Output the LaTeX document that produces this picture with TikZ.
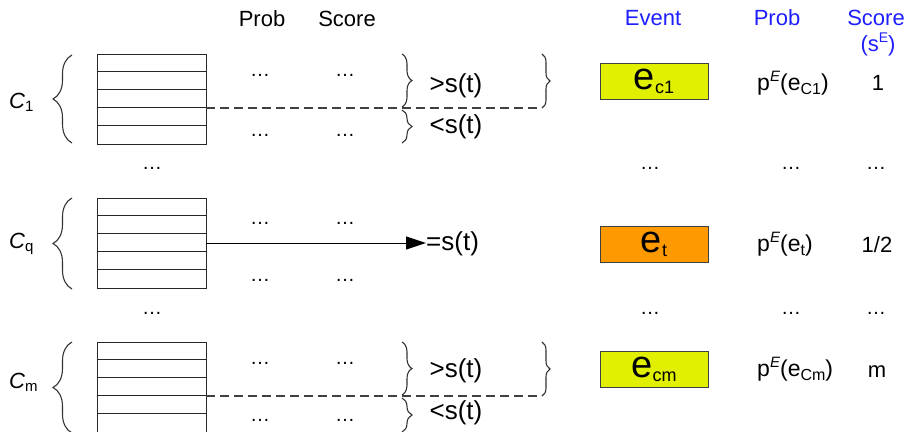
\documentclass[tikz,border=0pt]{standalone}
\usepackage{fontspec}
\setmainfont{Liberation Sans}
\usetikzlibrary{decorations.pathreplacing,arrows.meta}
\newcommand{\fsz}[1]{\fontsize{#1}{#1}\selectfont}
\newcommand{\lowr}[3]{\raisebox{-#1pt}{\fsz{#2}#3}}
\newcommand{\upr}[3]{\raisebox{#1pt}{\fsz{#2}#3}}
\definecolor{hdrblue}{RGB}{30,30,255}
\definecolor{evyellow}{RGB}{224,240,0}
\definecolor{evorange}{RGB}{255,153,0}
\begin{document}
\begin{tikzpicture}[x=1pt,y=-1pt,
  tbl/.style={draw=black!85, line width=0.9pt, minimum width=109pt, minimum height=90pt, inner sep=0pt},
  rowline/.style={draw=black!85, line width=0.9pt},
  evbox/.style={draw=black!75, line width=0.9pt, minimum width=108pt, minimum height=36pt, inner sep=0pt},
  txt/.style={inner sep=0pt, font=\fsz{22}, anchor=base},
  ptxt/.style={inner sep=0pt, font=\fsz{23}, anchor=base west},
  big/.style={inner sep=0pt, font=\fsz{26}, anchor=base},
  hdr/.style={inner sep=0pt, font=\fsz{22}, anchor=base},
  dotsn/.style={inner sep=0pt, font=\fsz{20}, anchor=base},
  brc/.style={decorate, decoration={brace, amplitude=#1}, draw=black!80, line width=1.1pt},
  cut/.style={draw=black!75, line width=1.2pt, dash pattern=on 9pt off 5pt},
  arr/.style={draw=black, line width=1pt, -{Triangle[length=20pt,width=13pt]}}
]
\useasboundingbox (0,0) rectangle (910,431);

% headers
\node[hdr] (hprob) at (262,26) {Prob};
\node[hdr] (hscore) at (347,26) {Score};
\node[hdr, text=hdrblue] (hevent) at (653,25) {Event};
\node[hdr, text=hdrblue] (hprobE) at (777,25) {Prob};
\node[hdr, text=hdrblue] (hscoreE) at (876,25) {Score};
\node[hdr, text=hdrblue] (hsE) at (878,51) {(s\upr{9}{14}{E})};

% tables
\node[tbl] (t1) at (151.5,99) {};
\node[tbl] (tq) at (151.5,243) {};
\node[tbl] (tm) at (151.5,387) {};
\foreach \t in {t1,tq,tm}{
  \foreach \k in {1,...,4}{
    \draw[rowline] (\t.north west) ++(0,18*\k) -- ++(109,0);
  }
}

% class labels
\node[txt, anchor=base west] (c1) at (9,108) {\textit{C}\lowr{3}{15}{1}};
\node[txt, anchor=base west] (cq) at (9,248) {\textit{C}\lowr{3}{15}{q}};
\node[txt, anchor=base west] (cm) at (9,388) {\textit{C}\lowr{3}{15}{m}};

% left braces
\coordinate (lb1a) at (72,143); \coordinate (lb1b) at (72,55);
\coordinate (lbqa) at (72,289); \coordinate (lbqb) at (72,198);
\coordinate (lbma) at (72,433); \coordinate (lbmb) at (72,342);
\draw[brc=19pt] (lb1a) -- (lb1b);
\draw[brc=19pt] (lbqa) -- (lbqb);
\draw[brc=19pt] (lbma) -- (lbmb);

% dots inside tables
\foreach \y/\n in {76/a,136/b,224/c,281/d,364/e,421/f}{
  \node[dotsn] (dp\n) at (260,\y) {…};
  \node[dotsn] (ds\n) at (345,\y) {…};
}
\node[dotsn] (rowdotA) at (152,169) {…};
\node[dotsn] (rowdotB) at (152,314) {…};

% row C1: threshold split
\coordinate (d1s) at (206,108);
\coordinate (d1e) at (542,108);
\draw[cut] (d1s) -- (d1e);
\coordinate (sb1a) at (402,54); \coordinate (sb1b) at (402,107);
\coordinate (sb1c) at (402,110); \coordinate (sb1d) at (402,143);
\draw[brc=10pt] (sb1a) -- (sb1b);
\draw[brc=10pt] (sb1c) -- (sb1d);
\coordinate (bb1a) at (542,54); \coordinate (bb1b) at (542,108);
\draw[brc=8pt] (bb1a) -- (bb1b);
\node[big] (gt1) at (456,92) {>s(t)};
\node[big] (lt1) at (456,133) {<s(t)};

% row Cq: arrow to =s(t)
\node[big, anchor=base west] (eqt) at (426,250) {=s(t)};
\draw[arr] (tq.east) -- (tq.east -| eqt.west);

% row Cm
\coordinate (dms) at (206,396);
\coordinate (dme) at (542,396);
\draw[cut] (dms) -- (dme);
\coordinate (sbma) at (402,342); \coordinate (sbmb) at (402,395);
\coordinate (sbmc) at (402,398); \coordinate (sbmd) at (402,432);
\draw[brc=10pt] (sbma) -- (sbmb);
\draw[brc=10pt] (sbmc) -- (sbmd);
\coordinate (bbma) at (542,342); \coordinate (bbmb) at (542,396);
\draw[brc=8pt] (bbma) -- (bbmb);
\node[big] (gtm) at (456,377) {>s(t)};
\node[big] (ltm) at (456,419) {<s(t)};

% event boxes
\node[evbox, fill=evyellow] (ec1) at (654,81) {\fsz{38}e\lowr{4}{18}{c1}};
\node[evbox, fill=evorange] (et) at (654,244) {\fsz{38}e\lowr{4}{18}{t}};
\node[evbox, fill=evyellow] (ecm) at (654,369) {\fsz{38}e\lowr{4}{18}{cm}};

% probabilities
\node[ptxt] (pc1) at (757,90) {p\upr{9}{15}{\textit{E}}(e\lowr{4}{16}{C1})};
\node[ptxt] (pt) at (757,251) {p\upr{9}{15}{\textit{E}}(e\lowr{4}{16}{t})};
\node[ptxt] (pcm) at (757,376) {p\upr{9}{15}{\textit{E}}(e\lowr{4}{16}{Cm})};

% scores
\node[txt] (s1) at (878,90) {1};
\node[txt] (st) at (877,252) {1/2};
\node[txt] (sm) at (877,377) {m};

% separator dots on right
\foreach \y/\n in {169/a,314/b}{
  \node[dotsn] (ed\n) at (650,\y) {…};
  \node[dotsn] (pd\n) at (791,\y) {…};
  \node[dotsn] (sd\n) at (876,\y) {…};
}
\end{tikzpicture}
\end{document}
